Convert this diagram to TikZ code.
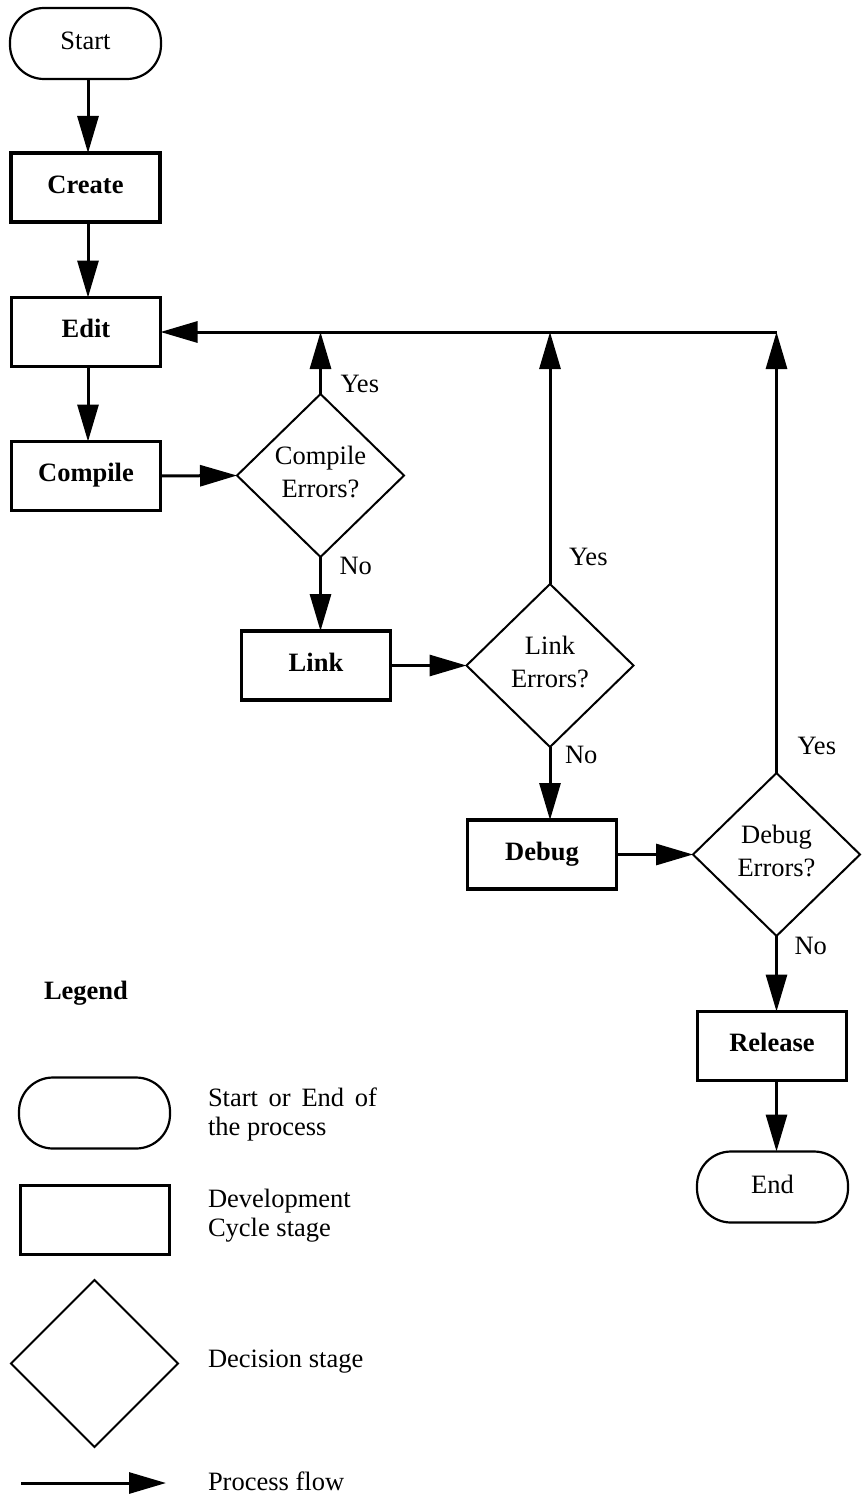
\documentclass[tikz,border=0pt]{standalone}
\usepackage{fontspec}
\setmainfont{Liberation Serif}
\usetikzlibrary{arrows.meta,shapes.geometric,calc}
\begin{document}
\begin{tikzpicture}[x=1pt,y=-1pt,
  every node/.style={font=\fontsize{26.5}{33}\selectfont, inner sep=0pt, outer sep=0pt},
  terminal/.style={draw, line width=2.2pt, rounded corners=34pt,
    minimum width=151pt, minimum height=71pt, text height=19pt, text depth=7pt},
  stage/.style={draw, line width=3.2pt, minimum width=149pt, minimum height=69pt,
    font=\fontsize{26.5}{33}\selectfont\bfseries, text height=19pt, text depth=8pt},
  decision/.style={draw, diamond, line width=2pt, minimum width=167pt,
    minimum height=163pt, align=center, text depth=8pt},
  flow/.style={line width=3pt, -{Triangle[length=37pt,width=21pt]}},
  answer/.style={anchor=base west},
  legendtext/.style={anchor=base west, font=\fontsize{26.5}{29.5}\selectfont}
]
\useasboundingbox (0,0) rectangle (865,1501);

% main development cycle
\node[terminal] (start) at (85.5,43.5) {Start};
\node[stage] (create) at (85.5,187.5) {Create};
\node[stage] (edit) at (86,332) {Edit};
\node[stage] (compile) at (86,476) {Compile};
\node[decision] (cerr) at (320.5,475.5) {Compile\\Errors?};
\node[stage] (link) at (316,665.5) {Link};
\node[decision] (lerr) at (550,665.5) {Link\\Errors?};
\node[stage] (debug) at (542,854.5) {Debug};
\node[decision] (derr) at (776.5,854.5) {Debug\\Errors?};
\node[stage] (release) at (772,1046) {Release};
\node[terminal] (end) at (772.5,1187) {End};

% forward flow
\coordinate (spine) at (88,0);
\draw[flow] (start.south -| spine) -- (create.north -| spine);
\draw[flow] (create.south -| spine) -- (edit.north -| spine);
\draw[flow] (edit.south -| spine) -- (compile.north -| spine);
\draw[flow] (compile.east) -- (cerr.west);
\draw[flow] (cerr.south) -- (cerr.south |- link.north);
\draw[flow] (link.east) -- (lerr.west);
\draw[flow] (lerr.south) -- (lerr.south |- debug.north);
\draw[flow] (debug.east) -- (derr.west);
\draw[flow] (derr.south) -- (derr.south |- release.north);
\draw[flow] (release.south -| derr.south) -- (end.north -| derr.south);

% error loops back to Edit
\coordinate (loop) at (derr.north |- edit.east);
\draw[flow] (derr.north) -- (loop);
\draw[flow] (lerr.north) -- (lerr.north |- edit.east);
\draw[flow] (cerr.north) -- (cerr.north |- edit.east);
\draw[flow] (loop) -- (edit.east);

% decision answers
\node[answer] (cyes) at ($(cerr.north)+(20,-2)$) {Yes};
\node[answer] (cno) at ($(cerr.south)+(19,17)$) {No};
\node[answer] (lyes) at ($(lerr.north)+(19,-19)$) {Yes};
\node[answer] (lno) at ($(lerr.south)+(15,16)$) {No};
\node[answer] (dyes) at ($(derr.north)+(21,-19)$) {Yes};
\node[answer] (dno) at ($(derr.south)+(18,18)$) {No};

% legend
\node[font=\fontsize{26.5}{33}\selectfont\bfseries, anchor=base] (legend) at (86,999) {Legend};
\node[terminal] (keyterm) at (94.5,1113) {};
\node[legendtext] (keytermtext) at (208,1106)
  {\begin{tabular}[t]{@{}l@{}}Start\hspace{10.7pt}or\hspace{10.7pt}End\hspace{10.7pt}of\\the process\end{tabular}};
\node[stage] (keystage) at (95,1220) {};
\node[legendtext] (keystagetext) at (208,1207)
  {\begin{tabular}[t]{@{}l@{}}Development\\Cycle stage\end{tabular}};
\node[decision, minimum width=167pt, minimum height=167pt] (keydec) at (94.5,1363.5) {};
\node[legendtext] (keydectext) at (208,1367) {Decision stage};
\coordinate (keyflowa) at (21,1483);
\coordinate (keyflowb) at (166,1483);
\draw[flow] (keyflowa) -- (keyflowb);
\node[legendtext] (keyflowtext) at (208,1490) {Process flow};
\end{tikzpicture}
\end{document}
